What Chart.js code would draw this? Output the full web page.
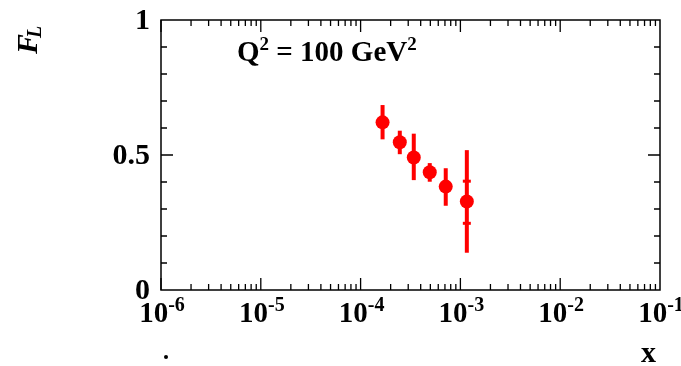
<!DOCTYPE html>
<html>
<head>
<meta charset="utf-8">
<script src="https://cdn.jsdelivr.net/npm/chart.js@4.4.0/dist/chart.umd.min.js"></script>
<style>
html, body { margin: 0; padding: 0; background: #fff; }
</style>
</head>
<body>
<canvas id="chart" width="681" height="366"></canvas>
<script>
// data
const xValues = [1.66e-4, 2.47e-4, 3.41e-4, 4.93e-4, 7.13e-4, 1.16e-3];
const flValues = [0.621, 0.547, 0.491, 0.436, 0.383, 0.328];
const totalHigh = [0.685, 0.590, 0.579, 0.470, 0.451, 0.518];
const totalLow = [0.558, 0.503, 0.407, 0.401, 0.312, 0.138];
const statHigh = [null, null, null, null, null, 0.403];
const statLow = [null, null, null, null, null, 0.247];
const xTickExponents = [-6, -5, -4, -3, -2, -1];
const yTickValues = [0, 0.5, 1];
const yTickLabels = ['0', '0.5', '1'];

const RED = '#ff0000';
const SERIF = '"Liberation Serif", "DejaVu Serif", serif';

// text with superscript pieces: parts = [[text, isSup], ...]
function drawParts(ctx, parts, x, y, size, supSize, rise, align) {
    let total = 0;
    parts.forEach(p => {
        ctx.font = 'bold ' + (p[1] ? supSize : size) + 'px ' + SERIF;
        total += ctx.measureText(p[0]).width;
    });
    let cx = x;
    if (align === 'center') cx = x - total / 2;
    if (align === 'right') cx = x - total;
    ctx.textAlign = 'left';
    ctx.textBaseline = 'alphabetic';
    parts.forEach(p => {
        ctx.font = 'bold ' + (p[1] ? supSize : size) + 'px ' + SERIF;
        ctx.fillText(p[0], cx, p[1] ? y - rise : y);
        cx += ctx.measureText(p[0]).width;
    });
}

const framePlugin = {
    id: 'frame',
    beforeDatasetsDraw(chart) {
        const ctx = chart.ctx;
        const xs = chart.scales.x;
        const ys = chart.scales.y;
        ctx.save();
        ctx.strokeStyle = RED;
        ctx.lineCap = 'butt';
        // error bars
        xValues.forEach((xv, i) => {
            const px = xs.getPixelForValue(xv);
            ctx.lineWidth = 4;
            ctx.beginPath();
            ctx.moveTo(px, ys.getPixelForValue(totalHigh[i]));
            ctx.lineTo(px, ys.getPixelForValue(totalLow[i]));
            ctx.stroke();
            if (statHigh[i] !== null) {
                ctx.lineWidth = 3;
                [statHigh[i], statLow[i]].forEach(v => {
                    const py = ys.getPixelForValue(v);
                    ctx.beginPath();
                    ctx.moveTo(px - 4, py);
                    ctx.lineTo(px + 4, py);
                    ctx.stroke();
                });
            }
        });
        ctx.restore();
    },
    afterDraw(chart) {
        const ctx = chart.ctx;
        const a = chart.chartArea;
        const xs = chart.scales.x;
        const ys = chart.scales.y;
        ctx.save();
        ctx.strokeStyle = '#000';
        ctx.lineWidth = 1.5;
        ctx.strokeRect(a.left, a.top, a.right - a.left, a.bottom - a.top);

        // x ticks, bottom and top
        ctx.lineWidth = 1.3;
        for (let e = -6; e < -1; e++) {
            for (let m = 1; m <= 9; m++) {
                const v = m * Math.pow(10, e);
                const px = xs.getPixelForValue(v);
                const len = m === 1 ? 12 : 6;
                ctx.beginPath();
                ctx.moveTo(px, a.bottom);
                ctx.lineTo(px, a.bottom - len);
                ctx.moveTo(px, a.top);
                ctx.lineTo(px, a.top + len);
                ctx.stroke();
            }
        }
        // y ticks, left and right
        for (let k = 1; k < 10; k++) {
            const py = ys.getPixelForValue(k / 10);
            const len = k === 5 ? 12 : 6;
            ctx.beginPath();
            ctx.moveTo(a.left, py);
            ctx.lineTo(a.left + len, py);
            ctx.moveTo(a.right, py);
            ctx.lineTo(a.right - len, py);
            ctx.stroke();
        }

        ctx.fillStyle = '#000';
        // y labels
        yTickValues.forEach((v, i) => {
            drawParts(ctx, [[yTickLabels[i], false]], a.left - 11, ys.getPixelForValue(v) + 9, 30, 20, 0, 'right');
        });
        // x labels
        xTickExponents.forEach(e => {
            const px = xs.getPixelForValue(Math.pow(10, e));
            drawParts(ctx, [['10', false], [String(e), true]], px + 1, a.bottom + 32, 29, 20, 11, 'center');
        });

        // axis titles
        drawParts(ctx, [['x', false]], 641, 362, 30, 20, 0, 'left');
        ctx.beginPath();
        ctx.arc(166, 357, 2, 0, Math.PI * 2);
        ctx.fill();

        ctx.save();
        ctx.translate(37, 54);
        ctx.rotate(-Math.PI / 2);
        ctx.font = 'italic bold 30px ' + SERIF;
        ctx.textAlign = 'left';
        ctx.fillText('F', 0, 0);
        ctx.font = 'italic bold 20px ' + SERIF;
        ctx.fillText('L', 16, 4);
        ctx.restore();

        // annotation
        drawParts(ctx, [['Q', false], ['2', true], [' = 100 GeV', false], ['2', true]], 237, 61, 29, 19, 11, 'left');
        ctx.restore();
    }
};

new Chart(document.getElementById('chart').getContext('2d'), {
    type: 'scatter',
    data: {
        datasets: [{
            data: xValues.map((x, i) => ({ x: x, y: flValues[i] })),
            backgroundColor: RED,
            borderWidth: 0,
            pointRadius: 7
        }]
    },
    options: {
        responsive: false,
        animation: false,
        layout: { padding: { left: 161, right: 21, top: 20, bottom: 76 } },
        plugins: { legend: { display: false }, tooltip: { enabled: false } },
        scales: {
            x: { type: 'logarithmic', min: 1e-6, max: 1e-1, display: false },
            y: { min: 0, max: 1, display: false }
        }
    },
    plugins: [framePlugin]
});
</script>
</body>
</html>
